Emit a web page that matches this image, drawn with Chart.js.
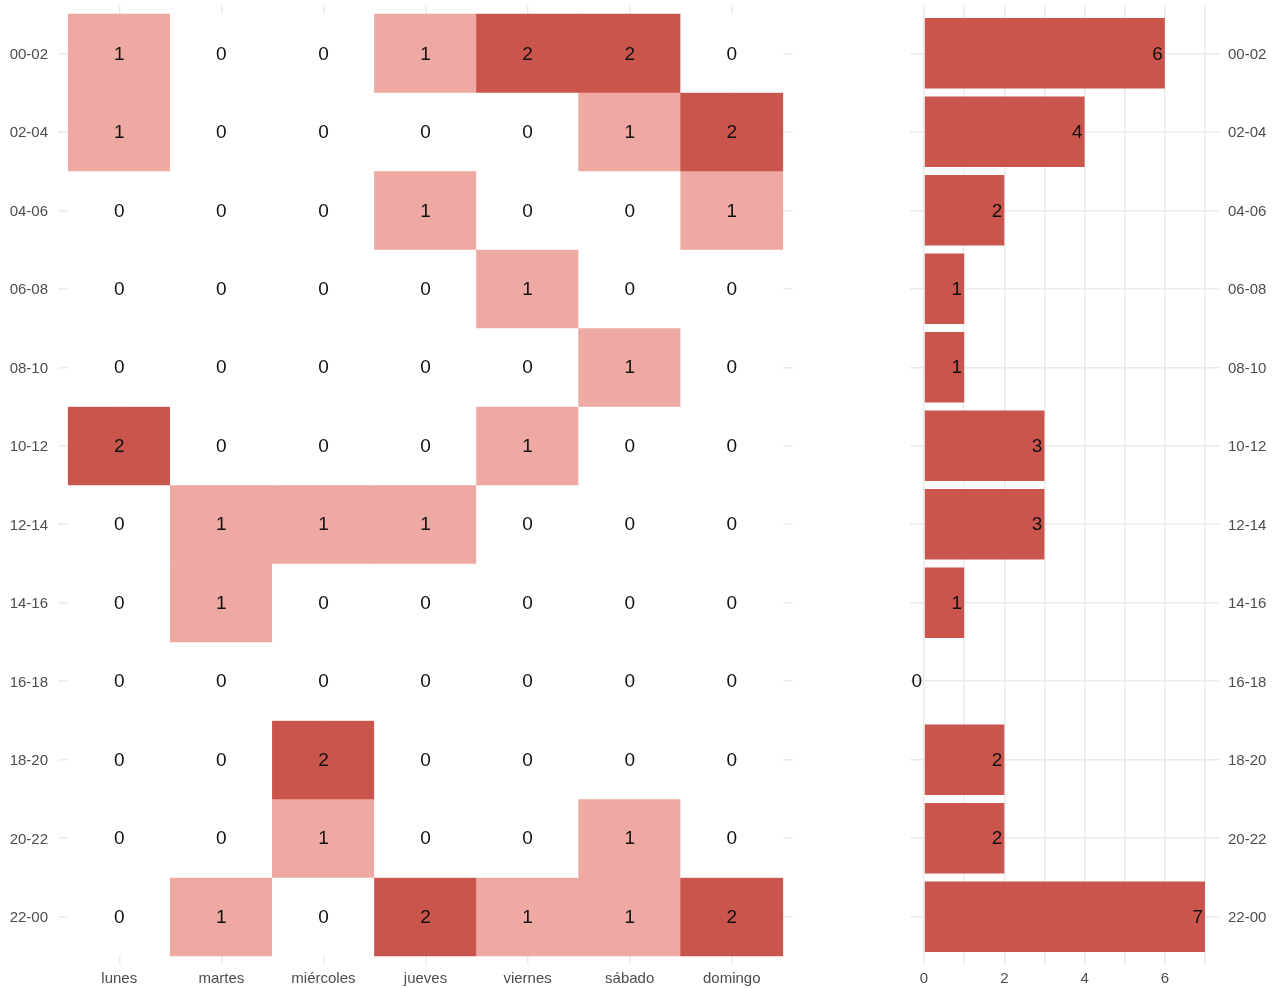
<!DOCTYPE html>
<html>
<head>
<meta charset="utf-8">
<script src="https://cdn.jsdelivr.net/npm/chart.js@4"></script>
<style>
  body { margin: 0; background: #fff; }
  canvas { position: absolute; top: 0; }
  #heat { left: 0; }
  #totals { left: 880px; }
</style>
</head>
<body>
<canvas id="heat" width="800" height="988"></canvas>
<canvas id="totals" width="397" height="988"></canvas>
<script>
const days = ['lunes', 'martes', 'miércoles', 'jueves', 'viernes', 'sábado', 'domingo'];
const slots = ['00-02', '02-04', '04-06', '06-08', '08-10', '10-12', '12-14', '14-16', '16-18', '18-20', '20-22', '22-00'];

// counts per slot (row) and day (column)
const counts = [
  [1, 0, 0, 1, 2, 2, 0],
  [1, 0, 0, 0, 0, 1, 2],
  [0, 0, 0, 1, 0, 0, 1],
  [0, 0, 0, 0, 1, 0, 0],
  [0, 0, 0, 0, 0, 1, 0],
  [2, 0, 0, 0, 1, 0, 0],
  [0, 1, 1, 1, 0, 0, 0],
  [0, 1, 0, 0, 0, 0, 0],
  [0, 0, 0, 0, 0, 0, 0],
  [0, 0, 2, 0, 0, 0, 0],
  [0, 0, 1, 0, 0, 1, 0],
  [0, 1, 0, 2, 1, 1, 2],
];
const totals = [6, 4, 2, 1, 1, 3, 3, 1, 0, 2, 2, 7];
const totalTicks = [0, 2, 4, 6];

const fillFor = v => (v >= 2 ? '#ca554c' : v === 1 ? '#eda9a2' : '#ffffff');
const gridColor = '#ebebeb';
const tickFont = { family: 'Liberation Sans, Arial, sans-serif', size: 15 };
const tickColor = '#4d4d4d';
const labelFont = '19px "Liberation Sans", Arial, sans-serif';

// drop the label overhang padding so the plot area sits where we want it
const noPad = s => { s.paddingTop = 0; s.paddingBottom = 0; s.paddingLeft = 0; s.paddingRight = 0; };

const heatLabels = {
  id: 'heatLabels',
  afterDatasetsDraw(chart) {
    const { ctx, scales: { x, y } } = chart;
    ctx.save();
    ctx.font = labelFont;
    ctx.fillStyle = '#111';
    ctx.textAlign = 'center';
    ctx.textBaseline = 'middle';
    counts.forEach((row, r) => {
      row.forEach((v, c) => {
        ctx.fillText(String(v), x.getPixelForValue(c), y.getPixelForValue(r) + 1);
      });
    });
    ctx.restore();
  }
};

const totalLabels = {
  id: 'totalLabels',
  afterDatasetsDraw(chart) {
    const { ctx, scales: { x, y } } = chart;
    ctx.save();
    ctx.font = labelFont;
    ctx.fillStyle = '#111';
    ctx.textAlign = 'right';
    ctx.textBaseline = 'middle';
    totals.forEach((v, r) => {
      ctx.fillText(String(v), x.getPixelForValue(v) - 2, y.getPixelForValue(r) + 1);
    });
    ctx.restore();
  }
};

new Chart(document.getElementById('heat'), {
  type: 'bar',
  data: {
    datasets: slots.map((s, r) => ({
      label: s,
      data: days.map((d, c) => ({ x: c, y: [r - 0.5, r + 0.5] })),
      backgroundColor: counts[r].map(fillFor),
      borderWidth: 0,
      grouped: false,
      barPercentage: 1,
      categoryPercentage: 1,
    })),
  },
  options: {
    responsive: false,
    animation: false,
    layout: { padding: { top: 5, right: 7, left: 0, bottom: 0 } },
    plugins: { legend: { display: false }, tooltip: { enabled: false } },
    scales: {
      x: {
        type: 'linear',
        min: -0.6,
        max: 6.6,
        offset: false,
        grid: { offset: false, color: gridColor, lineWidth: 1.5, drawTicks: false },
        border: { display: false },
        ticks: {
          stepSize: 1,
          includeBounds: false,
          autoSkip: false,
          maxRotation: 0,
          padding: 5,
          color: tickColor,
          font: tickFont,
          callback: v => days[v] ?? '',
        },
        afterFit: s => { noPad(s); s.height = 23; },
      },
      y: {
        type: 'linear',
        reverse: true,
        min: -0.615,
        max: 11.615,
        grid: { color: gridColor, lineWidth: 1.5, drawTicks: false },
        border: { display: false },
        ticks: {
          stepSize: 1,
          includeBounds: false,
          autoSkip: false,
          padding: 10,
          labelOffset: 1.5,
          color: tickColor,
          font: tickFont,
          callback: v => slots[v] ?? '',
        },
        afterFit: s => { noPad(s); s.width = 58; },
      },
    },
  },
  plugins: [heatLabels],
});

new Chart(document.getElementById('totals'), {
  type: 'bar',
  data: {
    datasets: [{
      label: 'total',
      data: totals.map((v, r) => ({ x: v, y: r })),
      backgroundColor: '#ca554c',
      borderWidth: 0,
      barPercentage: 0.9,
      categoryPercentage: 1,
    }],
  },
  options: {
    indexAxis: 'y',
    responsive: false,
    animation: false,
    layout: { padding: { top: 5, right: 0, left: 30, bottom: 0 } },
    plugins: { legend: { display: false }, tooltip: { enabled: false } },
    scales: {
      x: {
        type: 'linear',
        min: -0.35,
        max: 7.35,
        grid: { color: gridColor, lineWidth: 1.5, drawTicks: false },
        border: { display: false },
        ticks: {
          stepSize: 1,
          includeBounds: false,
          autoSkip: false,
          maxRotation: 0,
          padding: 5,
          color: tickColor,
          font: tickFont,
          callback: v => (totalTicks.includes(v) ? String(v) : ''),
        },
        afterFit: s => { noPad(s); s.height = 23; },
      },
      y: {
        type: 'linear',
        position: 'right',
        reverse: true,
        min: -0.615,
        max: 11.615,
        offset: false,
        grid: { offset: false, color: gridColor, lineWidth: 1.5, drawTicks: false },
        border: { display: false },
        ticks: {
          stepSize: 1,
          includeBounds: false,
          autoSkip: false,
          padding: 9,
          labelOffset: 1.5,
          color: tickColor,
          font: tickFont,
          callback: v => slots[v] ?? '',
        },
        afterFit: s => { noPad(s); s.width = 58; },
      },
    },
  },
  plugins: [totalLabels],
});
</script>
</body>
</html>
